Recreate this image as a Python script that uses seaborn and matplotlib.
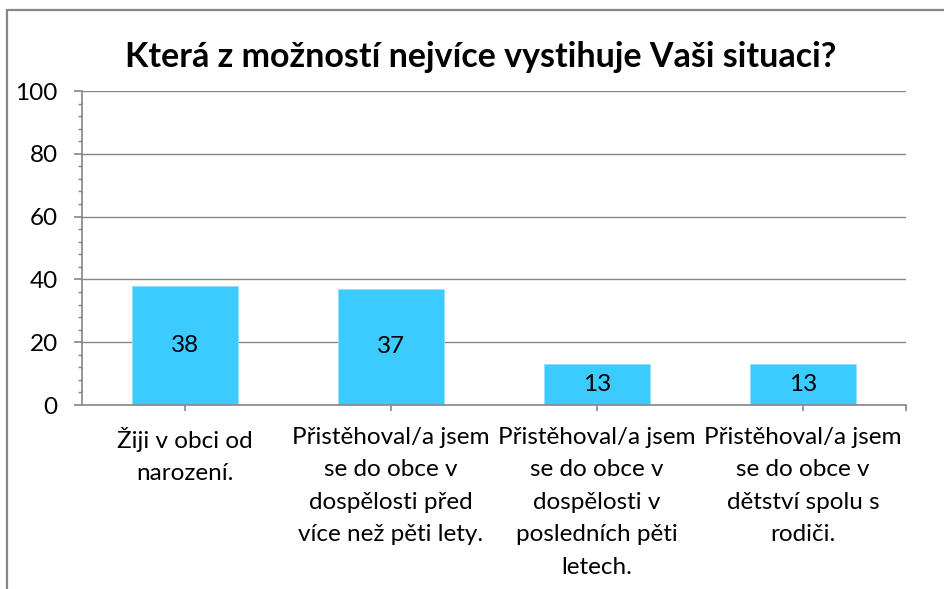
import matplotlib
matplotlib.use("Agg")
import matplotlib.pyplot as plt
import seaborn as sns
import pandas as pd
from matplotlib.lines import Line2D
from matplotlib.ticker import MultipleLocator

categories = [
    "Žiji v obci od\nnarození.",
    "Přistěhoval/a jsem\nse do obce v\ndospělosti před\nvíce než pěti lety.",
    "Přistěhoval/a jsem\nse do obce v\ndospělosti v\nposledních pěti\nletech.",
    "Přistěhoval/a jsem\nse do obce v\ndětství spolu s\nrodiči.",
]
values = [38, 37, 13, 13]
title = "Která z možností nejvíce vystihuje Vaši situaci?"

sns.set_theme(style="white")
plt.rcParams["font.family"] = ["Lato", "DejaVu Sans"]

W, H = 945, 589
fig = plt.figure(figsize=(W / 100, H / 100), dpi=100)
ax = fig.add_axes([82 / W, 1 - 405 / H, (906 - 82) / W, (405 - 91) / H])

df = pd.DataFrame({"cat": categories, "val": values})
sns.barplot(data=df, x="cat", y="val", color="#3BCBFF", width=0.51,
            saturation=1, ax=ax, edgecolor="#8FE0FF", linewidth=0.6)

grid_c = "#868686"
ax.set_ylim(0, 100)
ax.set_xlim(-0.5, 3.5)
ax.yaxis.set_major_locator(MultipleLocator(20))
ax.yaxis.set_minor_locator(MultipleLocator(4))
ax.grid(axis="y", color=grid_c, linewidth=1.0)
ax.set_axisbelow(True)
for s in ["top", "right"]:
    ax.spines[s].set_visible(False)
for s in ["left", "bottom"]:
    ax.spines[s].set_color(grid_c)
    ax.spines[s].set_linewidth(1.2)

ax.set_xticks([0, 1, 2, 3, 3.5])
ax.set_xticklabels(categories + [""], fontsize=17.5, color="#000000", linespacing=1.68)
ax.tick_params(axis="x", which="major", direction="out", length=4.5, width=1.2,
               color=grid_c, pad=11, bottom=True)
ax.tick_params(axis="y", which="major", direction="out", length=5.5, width=1.2,
               color=grid_c, labelsize=17.5, labelcolor="#000000", pad=12, left=True)
ax.tick_params(axis="y", which="minor", direction="out", length=3, width=1.0,
               color=grid_c, left=True)
ax.set_xlabel("")
ax.set_ylabel("")

for i, v in enumerate(values):
    ax.text(i, v / 2, str(v), ha="center", va="center", fontsize=17.5, color="#000000")

fig.text(481 / W, 1 - 57 / H, title, ha="center", va="center",
         fontsize=24.5, fontweight="bold", color="#000000")

fig.add_artist(Line2D([7.5 / W, 7.5 / W], [0, 1 - 9.5 / H], transform=fig.transFigure,
                      color=grid_c, linewidth=1.6))
fig.add_artist(Line2D([7.5 / W, 1], [1 - 9.5 / H, 1 - 9.5 / H], transform=fig.transFigure,
                      color=grid_c, linewidth=1.6))

fig.savefig("out.png", dpi=100)
